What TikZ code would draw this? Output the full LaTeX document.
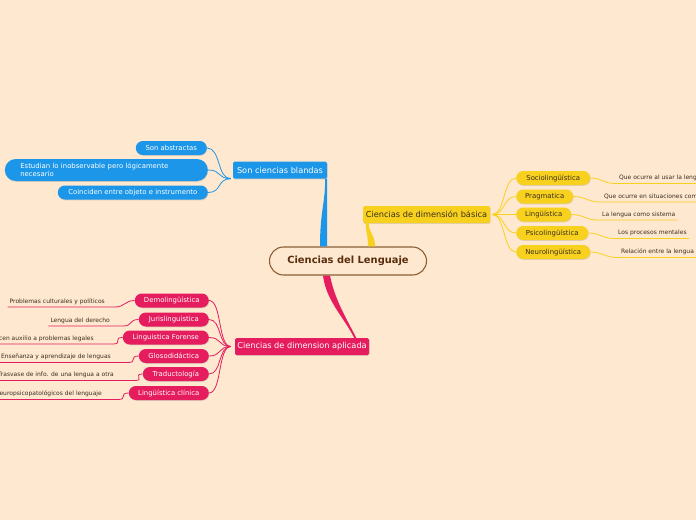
\documentclass[tikz,border=0pt]{standalone}
\usepackage{fontspec}
\setmainfont{DejaVu Sans}
\usetikzlibrary{positioning,shadows}
\definecolor{paper}{HTML}{FEE8D0}
\definecolor{blue}{HTML}{1C96E8}
\definecolor{yellow}{HTML}{F8D11F}
\definecolor{pink}{HTML}{E51C5E}
\definecolor{brown}{HTML}{8B5E34}
\definecolor{hubink}{HTML}{5A2D0C}
\definecolor{ink}{HTML}{3A2E1E}
\tikzset{
  soft/.style={drop shadow={shadow xshift=0.5pt,shadow yshift=-0.8pt,opacity=0.25}},
  pill/.style={soft,rounded corners=7pt,minimum height=14pt,inner sep=0pt,font=\fontsize{6.9}{8.2}\selectfont},
  bpill/.style={pill,fill=blue,text=white},
  ypill/.style={pill,fill=yellow,text=ink},
  ppill/.style={pill,fill=pink,text=white},
  branch/.style={soft,minimum height=17pt,inner sep=0pt,rounded corners=1.5pt,font=\fontsize{8.2}{9.8}\selectfont},
  leaf/.style={inner xsep=2pt,inner ysep=2.5pt,font=\fontsize{6}{7}\selectfont,text=ink},
  hub/.style={draw=brown,line width=1.1pt,fill=paper,rounded corners=14pt,minimum width=157pt,minimum height=28pt,font=\bfseries\fontsize{9.9}{11.5}\selectfont,text=hubink},
  bline/.style={blue,line width=0.8pt},
  yline/.style={yellow,line width=0.8pt},
  pline/.style={pink,line width=0.8pt}
}
\begin{document}
\begin{tikzpicture}[x=1pt,y=-1pt]
  \clip (0,0) rectangle (696,520);
  \fill[paper] (0,0) rectangle (696,520);
  \node[hub] (hub) at (348,261) {Ciencias del Lenguaje};
  \node[branch,fill=blue,text=white,minimum width=94pt] (blandas) at (280,170) {Son ciencias blandas};
  \node[branch,fill=yellow,text=ink,minimum width=127pt] (basica) at (426.5,214.5) {Ciencias de dimensión básica};
  \node[branch,fill=pink,text=white,minimum width=134pt] (aplicada) at (302,346.5) {Ciencias de dimension aplicada};
  \fill[blue] ([xshift=-28pt]hub.north) .. controls +(0,-35) and +(0,25) .. ([xshift=-2pt]blandas.south east)
    -- (blandas.south east) .. controls +(0,25) and +(0,-35) .. ([xshift=-21pt]hub.north) -- cycle;
  \fill[yellow] ([xshift=20pt]hub.north) .. controls +(0,-12) and +(0,10) .. ([xshift=3pt]basica.south west)
    -- ([xshift=6pt]basica.south west) .. controls +(0,10) and +(0,-12) .. ([xshift=27pt]hub.north) -- cycle;
  \fill[pink] ([xshift=-25pt]hub.south) .. controls +(3,25) and +(-10,-20) .. ([xshift=-15pt]aplicada.north east)
    -- ([xshift=-13pt]aplicada.north east) .. controls +(-10,-20) and +(5,25) .. ([xshift=-18pt]hub.south) -- cycle;

  \node[bpill,anchor=east,minimum width=71pt] (abstractas) at (207,148) {Son abstractas};
  \node[bpill,anchor=east,minimum width=203pt,minimum height=22pt,rounded corners=11pt,text width=172pt,align=left] (inobservable) at (208,170) {Estudian lo inobservable pero lógicamente\\necesario};
  \node[bpill,anchor=east,minimum width=150pt] (coinciden) at (208,192.5) {Coinciden entre objeto e instrumento};
  \foreach \c in {abstractas,inobservable,coinciden}
    \draw[bline] ([xshift=-2pt]blandas.south west) .. controls +(-14,0) and +(14,0) .. (\c.east);

  \foreach \i/\txt/\yy/\ww/\lf/\lx in {1/Sociolingüística/178/74/Que ocurre al usar la lengua/617,
      2/Pragmatica/196.5/57/Que ocurre en situaciones comunicativas/602,
      3/Lingüística/214.5/55/La lengua como sistema/600,
      4/Psicolingüística/233/72/Los procesos mentales/616,
      5/Neurolingüística/252/74/Relación entre la lengua y el cerebro/619}{
    \node[ypill,anchor=west,minimum width={\ww pt}] (y\i) at (516,\yy) {\txt};
    \node[leaf,anchor=south west] (yl\i) at (\lx,\yy+5.5) {\lf};
    \draw[yline] ([xshift=2pt]basica.east) .. controls +(13,0) and +(-13,0) .. (y\i.west);
    \draw[yline] (y\i.east) .. controls +(12,0) and +(-12,0) .. ([xshift=-2pt]yl\i.south west) -- (yl\i.south east);
  }

  \foreach \i/\txt/\yy/\ww/\lf/\lx/\dx in {1/Demolingüística/300.5/74/Problemas culturales y políticos/107/8,
      2/Jurislinguistica/319.5/70/Lengua del derecho/112/11,
      3/Linguistica Forense/337.5/86/Ofrecen auxilio a problemas legales/96/17,
      4/Glosodidáctica/356/70/Enseñanza y aprendizaje de lenguas/113/15,
      5/Traductología/374/66/Trasvase de info. de una lengua a otra/116/19,
      6/Lingüística clínica/393/80/Trastornos neuropsicopatológicos del lenguaje/104/14}{
    \node[ppill,anchor=east,minimum width={\ww pt}] (p\i) at (209,\yy) {\txt};
    \node[leaf,anchor=south east] (pl\i) at (\lx,\yy+6.5) {\lf};
    \draw[pline] ([xshift=-4pt]aplicada.west) .. controls +(-13,0) and +(13,0) .. (p\i.east);
    \draw[pline] (p\i.west) .. controls +(-10,0) and +(10,0) .. ([xshift=\dx pt]pl\i.south east) -- (pl\i.south west);
  }
\end{tikzpicture}
\end{document}
